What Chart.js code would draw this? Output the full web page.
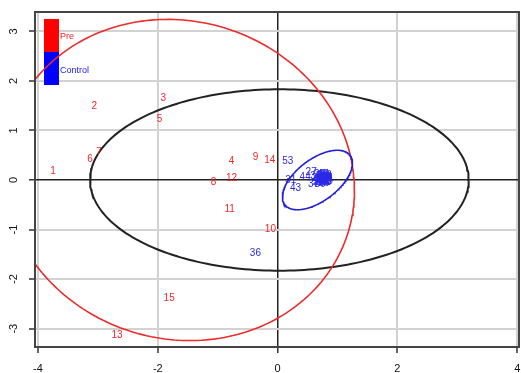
<!DOCTYPE html>
<html>
<head>
<meta charset="utf-8">
<script src="https://cdn.jsdelivr.net/npm/chart.js@4.4.1/dist/chart.umd.min.js"></script>
<style>
  html, body { margin: 0; padding: 0; background: #fff; }
</style>
</head>
<body>
<canvas id="plot" width="521" height="373"></canvas>
<script>
// Pre group (labels 1..15)
var preLabels = ['1','2','3','4','5','6','7','8','9','10','11','12','13','14','15'];
var preX = [-3.75, -3.06, -1.91, -0.77, -1.97, -3.13, -2.98, -1.07, -0.37, -0.12, -0.80, -0.77, -2.68, -0.13, -1.81];
var preY = [0.18, 1.49, 1.65, 0.38, 1.23, 0.42, 0.56, -0.04, 0.46, -0.99, -0.60, 0.04, -3.14, 0.40, -2.38];

// Control group (labels 16..53), most of them piled up in one blob
var ctlLabels = ['16','17','18','19','20','21','22','23','24','25','26','27','28','29','30','31','32','33','34',
                 '35','36','37','38','39','40','41','42','43','44','45','46','47','48','49','50','51','52','53'];
var ctlX = [0.72, 0.78, 0.68, 0.80, 0.75, 0.66, 0.79, 0.74, 0.82, 0.70, 0.77, 0.56, 0.81, 0.68, 0.78, 0.22, 0.73, 0.83, 0.76,
            0.64, -0.37, 0.60, 0.80, 0.71, 0.82, 0.74, 0.78, 0.30, 0.46, 0.69, 0.81, 0.76, 0.67, 0.79, 0.73, 0.84, 0.75, 0.17];
var ctlY = [0.05, 0.02, -0.02, 0.06, 0.09, 0.03, -0.05, -0.01, 0.01, 0.11, -0.07, 0.15, 0.09, -0.05, 0.04, 0.00, 0.02, -0.03, 0.00,
            0.07, -1.47, -0.09, -0.01, -0.08, 0.05, 0.07, -0.03, -0.17, 0.06, 0.01, -0.05, 0.12, -0.01, 0.08, -0.04, 0.03, 0.03, 0.38];

// ellipses: centre and spread matrix
var redCentre = [-1.65, 0.0];
var redSpread = [[8.6, -0.6], [-0.6, 10.5]];
var blackCentre = [0.03, 0.0];
var blackSpread = [[9.99, 0], [0, 3.35]];
var blueCentre = [0.665, 0.0];
var blueSpread = [[0.342, 0.2], [0.2, 0.36]];

var xTicks = [-4, -2, 0, 2, 4];
var yTicks = [-3, -2, -1, 0, 1, 2, 3];
var legendNames = ['Pre', 'Control'];

var FONT = '"Liberation Sans", Arial, sans-serif';

function pts(xs, ys) {
  return xs.map(function (x, i) { return { x: x, y: ys[i] }; });
}

function ellipse(c, s) {
  var l11 = Math.sqrt(s[0][0]);
  var l21 = s[0][1] / l11;
  var l22 = Math.sqrt(s[1][1] - l21 * l21);
  var out = [];
  for (var i = 0; i <= 240; i++) {
    var t = i / 240 * 2 * Math.PI;
    out.push({ x: c[0] + l11 * Math.cos(t), y: c[1] + l21 * Math.cos(t) + l22 * Math.sin(t) });
  }
  return out;
}

function lineSet(data, color, width) {
  return { data: data, showLine: true, borderColor: color, borderWidth: width, pointRadius: 0, fill: false, tension: 0 };
}

var extras = {
  id: 'extras',
  beforeDatasetsDraw: function (chart) {
    // legend boxes sit under the curves
    var ctx = chart.ctx;
    ctx.save();
    ctx.fillStyle = '#ff0000';
    ctx.fillRect(44, 19, 15, 33);
    ctx.fillStyle = '#0000ff';
    ctx.fillRect(44, 52, 15, 33);
    ctx.font = '9px ' + FONT;
    ctx.textAlign = 'left';
    ctx.textBaseline = 'middle';
    ctx.fillStyle = '#ff2020';
    ctx.fillText(legendNames[0], 60, 37);
    ctx.fillStyle = '#2020ff';
    ctx.fillText(legendNames[1], 60, 71);
    ctx.restore();
  },
  afterDatasetsDraw: function (chart) {
    var ctx = chart.ctx;
    chart.data.datasets.forEach(function (ds, i) {
      if (!ds.texts) return;
      var meta = chart.getDatasetMeta(i);
      ctx.save();
      ctx.fillStyle = ds.textColor;
      ctx.font = '10px ' + FONT;
      ctx.textAlign = 'center';
      ctx.textBaseline = 'middle';
      meta.data.forEach(function (el, j) { ctx.fillText(ds.texts[j], el.x, el.y); });
      ctx.restore();
    });
  },
  afterDraw: function (chart) {
    var a = chart.chartArea, ctx = chart.ctx;
    ctx.save();
    ctx.strokeStyle = '#444';
    ctx.lineWidth = 2;
    ctx.strokeRect(a.left, a.top, a.right - a.left, a.bottom - a.top);
    // y tick labels, turned like R does
    var ys = chart.scales.y;
    ctx.fillStyle = '#111';
    ctx.font = '11px ' + FONT;
    ctx.textAlign = 'center';
    ctx.textBaseline = 'middle';
    yTicks.forEach(function (v) {
      ctx.save();
      ctx.translate(14, ys.getPixelForValue(v));
      ctx.rotate(-Math.PI / 2);
      ctx.fillText(String(v), 0, 0);
      ctx.restore();
    });
    ctx.restore();
  }
};

function gridColor(c) { return c.tick && c.tick.value === 0 ? '#222' : '#d2d2d2'; }
function gridWidth(c) { return c.tick && c.tick.value === 0 ? 1.5 : 2; }

new Chart(document.getElementById('plot').getContext('2d'), {
  type: 'scatter',
  data: {
    datasets: [
      { data: pts(preX, preY), texts: preLabels, textColor: '#ee2a2a', pointRadius: 0 },
      { data: pts(ctlX, ctlY), texts: ctlLabels, textColor: '#2a2ae6', pointRadius: 0 },
      lineSet(ellipse(blueCentre, blueSpread), '#2020d8', 1.6),
      lineSet(ellipse(redCentre, redSpread), '#ee2a2a', 1.6),
      lineSet(ellipse(blackCentre, blackSpread), '#222', 2)
    ]
  },
  options: {
    responsive: false,
    animation: false,
    events: [],
    layout: { padding: { left: 0, right: 2, top: 12, bottom: 0 } },
    plugins: { legend: { display: false }, tooltip: { enabled: false } },
    scales: {
      x: {
        type: 'linear', min: -4.05, max: 4.03,
        afterBuildTicks: function (s) { s.ticks = xTicks.map(function (v) { return { value: v }; }); },
        afterFit: function (s) { s.height = 26; s.paddingLeft = 0; s.paddingRight = 0; },
        grid: { color: gridColor, lineWidth: gridWidth, tickColor: '#333', tickLength: 6, tickWidth: 1.5 },
        border: { display: false },
        ticks: { color: '#111', font: { family: FONT, size: 11 }, padding: 9, maxRotation: 0 }
      },
      y: {
        type: 'linear', min: -3.37, max: 3.39,
        afterBuildTicks: function (s) { s.ticks = yTicks.map(function (v) { return { value: v }; }); },
        afterFit: function (s) { s.width = 35; },
        grid: { color: gridColor, lineWidth: gridWidth, tickColor: '#333', tickLength: 6, tickWidth: 1.5 },
        border: { display: false },
        ticks: { display: false }
      }
    }
  },
  plugins: [extras]
});
</script>
</body>
</html>
